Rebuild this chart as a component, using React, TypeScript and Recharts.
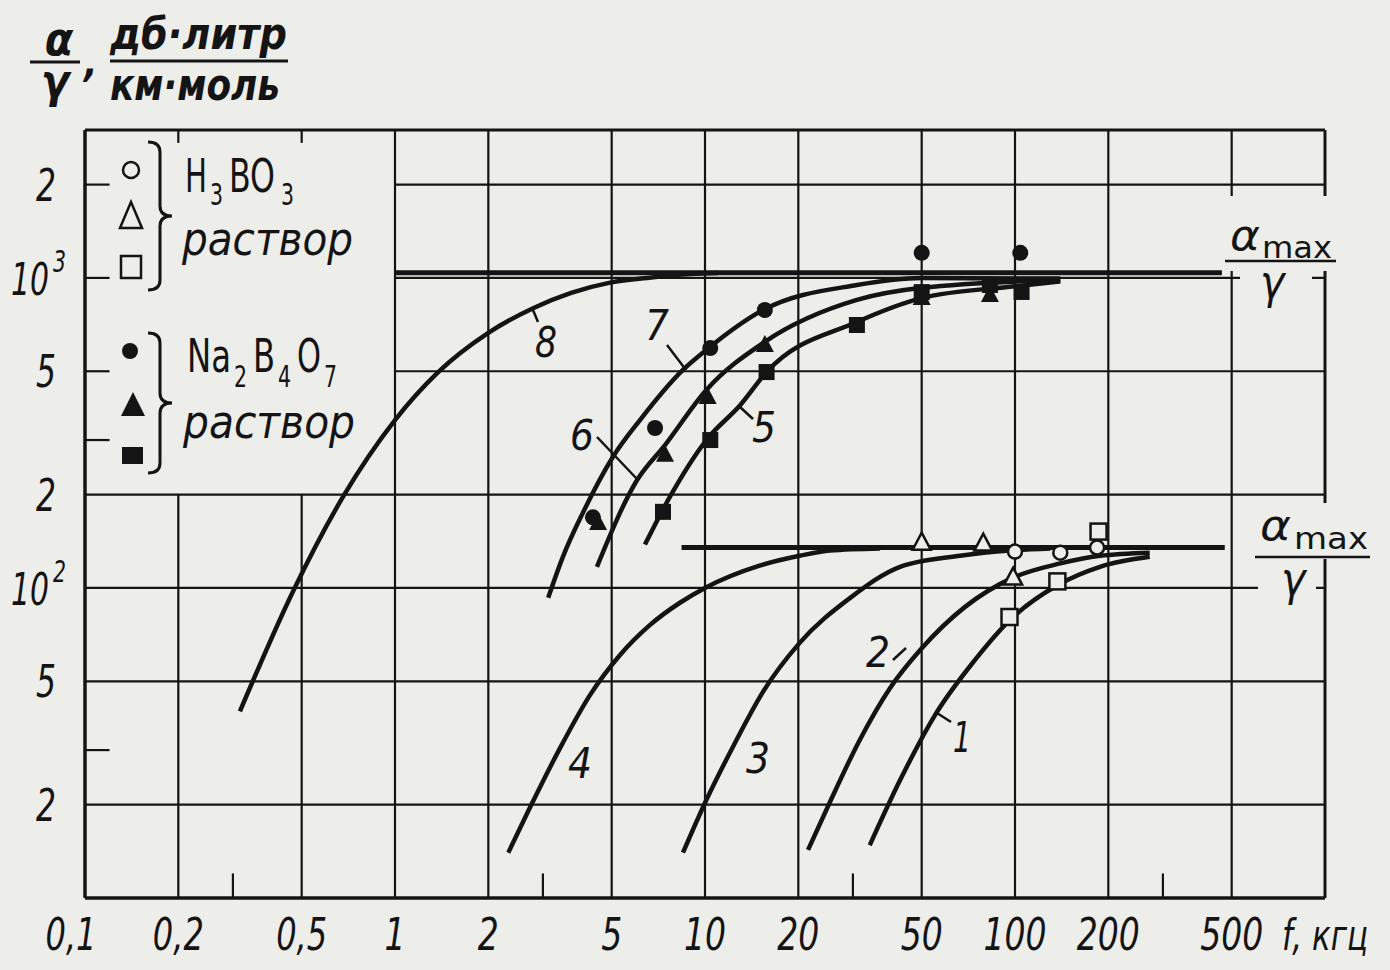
import React from 'react';
import { ComposedChart, Line, Scatter, XAxis, YAxis, ReferenceLine } from 'recharts';

const BG = '#ededea';
const INK = '#141414';
const FONT = "'Liberation Sans Narrow', 'DejaVu Sans Condensed', 'DejaVu Sans', sans-serif";

// axis ticks
const X_TICKS = [0.1, 0.2, 0.5, 1, 2, 5, 10, 20, 50, 100, 200, 500];
const X_TICK_LABELS = ['0,1', '0,2', '0,5', '1', '2', '5', '10', '20', '50', '100', '200', '500'];
const Y_TICKS = [20, 50, 100, 200, 500, 1000, 2000];
const Y_TICK_LABELS = ['2', '5', '10^2', '2', '5', '10^3', '2'];

// grid
const GRID_X_FULL = [1, 2, 5, 10, 20, 50, 100, 200, 500];
const GRID_X_LOW = [0.2, 0.5];
const GRID_Y_FULL = [20, 50, 100, 200];
const GRID_Y_RIGHT = [500, 1000, 2000];
const BOTTOM_TICKS = [0.3, 3, 30, 300];
const LEFT_TICKS = [30, 300, 500, 1000, 2000];
const TOP_TICKS = [0.2, 0.5];

// curves (f, кгц ; α/γ)
const CURVE_1 = [[34, 14.8], [42.6, 24], [55.2, 38.9], [74.3, 58.6], [96.4, 78.9], [137, 102], [188, 117], [272, 126]];
const CURVE_2 = [[21.5, 14.3], [25.3, 20.4], [31.6, 32.4], [39.5, 47.5], [50.1, 64], [69, 86.9], [98.6, 108], [140, 120], [188, 127], [272, 130]];
const CURVE_3 = [[8.49, 14], [10.1, 20.7], [12.3, 30.7], [15.4, 46.3], [20.2, 66.5], [29.4, 92.9], [42.6, 117], [66.5, 127], [96.4, 132], [130, 134]];
const CURVE_4 = [[2.32, 14], [2.72, 19.5], [3.41, 30.5], [4.26, 45.2], [5.32, 60.8], [6.65, 76], [8.3, 89.6], [10, 100], [15, 118], [20.2, 127], [25.3, 132], [36.7, 134]];
const CURVE_5 = [[6.4, 138], [7.71, 197], [10.1, 300], [13, 389], [15.8, 497], [30.9, 721], [50, 861], [100, 940], [140, 975]];
const CURVE_6 = [[4.48, 117], [6.04, 223], [7.43, 289], [10.1, 435], [15.6, 622], [30.9, 849], [50, 929], [140, 985]];
const CURVE_7 = [[3.12, 93], [3.48, 126], [4.04, 175], [5.05, 265], [6.17, 348], [8.49, 505], [10.1, 586], [15.4, 788], [30.9, 949], [50, 1000], [140, 995]];
const CURVE_8 = [[0.316, 40], [0.47, 98], [0.68, 197], [1, 348], [1.37, 494], [2, 665], [2.8, 800], [3.7, 895], [4.9, 964], [6.5, 1000], [9, 1030], [11, 1038]];
const AMAX_UPPER = [[1, 1040], [465, 1040]];
const AMAX_LOWER = [[8.4, 135], [475, 135]];

// measured points
const H3BO3_CIRCLE = [[100, 131], [140, 130], [184, 135]];
const H3BO3_TRIANGLE = [[50, 140], [79, 139], [98.6, 108]];
const H3BO3_SQUARE = [[186, 152], [137, 105], [96, 80.6]];
const NA_CIRCLE = [[4.35, 169], [6.9, 328], [10.4, 594], [15.6, 788], [50, 1205], [104, 1205]];
const NA_TRIANGLE = [[4.52, 162], [7.43, 269], [10.2, 413], [15.6, 608], [50, 861], [83, 881]];
const NA_SQUARE = [[7.32, 176], [10.4, 300], [15.8, 497], [30.9, 705], [50, 900], [83, 949], [105, 901]];

const pts = (a: number[][]) => a.map(([x, y]) => ({ x, y }));
const TF = 1.2; // short tick length factor (log)

const OpenCircle = (p: any) => <circle cx={p.cx} cy={p.cy} r={7} fill={BG} stroke={INK} strokeWidth={2.5} />;
const OpenTriangle = (p: any) => (
  <path d={`M${p.cx},${p.cy - 10} L${p.cx + 9},${p.cy + 7} L${p.cx - 9},${p.cy + 7} Z`} fill={BG} stroke={INK} strokeWidth={2.5} />
);
const OpenSquare = (p: any) => <rect x={p.cx - 8} y={p.cy - 8} width={16} height={16} fill={BG} stroke={INK} strokeWidth={2.5} />;
const FillCircle = (p: any) => <circle cx={p.cx} cy={p.cy} r={8} fill={INK} />;
const FillTriangle = (p: any) => (
  <path d={`M${p.cx},${p.cy - 10} L${p.cx + 9},${p.cy + 7} L${p.cx - 9},${p.cy + 7} Z`} fill={INK} />
);
const FillSquare = (p: any) => <rect x={p.cx - 8} y={p.cy - 8} width={16} height={16} fill={INK} />;

const charW = (s: string) => s.split('').reduce((w, c) => w + (c === ',' ? 9 : 21), 0);

const XTick = (props: any) => {
  const { x, y, payload } = props;
  const i = X_TICKS.indexOf(payload.value);
  const label = X_TICK_LABELS[i] ?? '';
  const dx = i === 0 ? -14 : 0;
  return (
    <text x={x + dx} y={y + 52} textAnchor="middle" fontFamily={FONT} fontStyle="italic" fontSize={44}
      fill={INK} textLength={charW(label)} lengthAdjust="spacingAndGlyphs">{label}</text>
  );
};

const YTick = (props: any) => {
  const { y, payload } = props;
  const i = Y_TICKS.indexOf(payload.value);
  const label = Y_TICK_LABELS[i] ?? '';
  if (label.includes('^')) {
    const [b, e] = label.split('^');
    return (
      <text x={11} y={y + 17} fontFamily={FONT} fontStyle="italic" fontSize={44} fill={INK}>
        <tspan textLength={38} lengthAdjust="spacingAndGlyphs">{b}</tspan>
        <tspan x={53} dy={-23} fontSize={30} textLength={13} lengthAdjust="spacingAndGlyphs">{e}</tspan>
      </text>
    );
  }
  return (
    <text x={46} y={y + 16} textAnchor="middle" fontFamily={FONT} fontStyle="italic" fontSize={44} fill={INK}
      textLength={20} lengthAdjust="spacingAndGlyphs">{label}</text>
  );
};

const seg = (x1: number, y1: number, x2: number, y2: number, w: number, key: string) => (
  <ReferenceLine key={key} segment={[{ x: x1, y: y1 }, { x: x2, y: y2 }]} stroke={INK} strokeWidth={w} ifOverflow="visible" />
);

const brace = (x0: number, yTop: number, yBot: number) => {
  const w = 24;
  const m = x0 + w / 2;
  const yMid = (yTop + yBot) / 2;
  const r = 10;
  return `M${x0},${yTop} Q${m},${yTop} ${m},${yTop + r} L${m},${yMid - r} Q${m},${yMid} ${x0 + w},${yMid} Q${m},${yMid} ${m},${yMid + r} L${m},${yBot - r} Q${m},${yBot} ${x0},${yBot}`;
};

const Overlay = () => (
  <svg width={1390} height={970} style={{ position: 'absolute', left: 0, top: 0, pointerEvents: 'none' }}>
    {/* paper patches behind alpha_max labels */}
    <rect x={1226} y={196} width={120} height={75} fill={BG} />
    <rect x={1240} y={275} width={72} height={42} fill={BG} />
    <rect x={1240} y={503} width={140} height={56} fill={BG} />
    <rect x={1258} y={560} width={58} height={50} fill={BG} />

    <g fill={INK} fontFamily={FONT} fontStyle="italic">
      {/* axis title */}
      <text x={59} y={55} fontSize={46} fontWeight="bold" textAnchor="middle">α</text>
      <line x1={30} x2={80} y1={62} y2={62} stroke={INK} strokeWidth={3} />
      <text x={55} y={97} fontSize={46} fontWeight="bold" textAnchor="middle">γ</text>
      <text x={84} y={76} fontSize={40} fontWeight="bold">,</text>
      <text x={110} y={49} fontSize={44} fontWeight="bold" textLength={177} lengthAdjust="spacingAndGlyphs">дб·литр</text>
      <line x1={110} x2={288} y1={61} y2={61} stroke={INK} strokeWidth={3} />
      <text x={110} y={100} fontSize={44} fontWeight="bold" textLength={170} lengthAdjust="spacingAndGlyphs">км·моль</text>

      {/* legend */}
      <text x={185} y={192} fontSize={46} fontStyle="normal">
        <tspan x={185} textLength={22} lengthAdjust="spacingAndGlyphs">H</tspan>
        <tspan x={210} y={205} fontSize={30} textLength={13} lengthAdjust="spacingAndGlyphs">3</tspan>
        <tspan x={229} y={192} textLength={46} lengthAdjust="spacingAndGlyphs">BO</tspan>
        <tspan x={281} y={205} fontSize={30} textLength={13} lengthAdjust="spacingAndGlyphs">3</tspan>
      </text>
      <text x={182} y={255} fontSize={46} textLength={171} lengthAdjust="spacingAndGlyphs">раствор</text>
      <text x={187} y={372} fontSize={46} fontStyle="normal">
        <tspan x={187} textLength={44} lengthAdjust="spacingAndGlyphs">Na</tspan>
        <tspan x={234} y={387} fontSize={30} textLength={13} lengthAdjust="spacingAndGlyphs">2</tspan>
        <tspan x={253} y={372} textLength={22} lengthAdjust="spacingAndGlyphs">B</tspan>
        <tspan x={278} y={387} fontSize={30} textLength={13} lengthAdjust="spacingAndGlyphs">4</tspan>
        <tspan x={297} y={372} textLength={24} lengthAdjust="spacingAndGlyphs">O</tspan>
        <tspan x={324} y={387} fontSize={30} textLength={13} lengthAdjust="spacingAndGlyphs">7</tspan>
      </text>
      <text x={183} y={438} fontSize={46} textLength={172} lengthAdjust="spacingAndGlyphs">раствор</text>

      {/* curve numbers */}
      <text x={535} y={357} fontSize={42} textLength={22} lengthAdjust="spacingAndGlyphs">8</text>
      <text x={645} y={340} fontSize={42} textLength={24} lengthAdjust="spacingAndGlyphs">7</text>
      <text x={570} y={450} fontSize={42} textLength={24} lengthAdjust="spacingAndGlyphs">6</text>
      <text x={752} y={442} fontSize={42} textLength={24} lengthAdjust="spacingAndGlyphs">5</text>
      <text x={568} y={778} fontSize={42} textLength={24} lengthAdjust="spacingAndGlyphs">4</text>
      <text x={746} y={773} fontSize={42} textLength={24} lengthAdjust="spacingAndGlyphs">3</text>
      <text x={866} y={667} fontSize={42} textLength={24} lengthAdjust="spacingAndGlyphs">2</text>
      <text x={953} y={752} fontSize={42} textLength={18} lengthAdjust="spacingAndGlyphs">1</text>

      {/* x axis unit */}
      <text x={1282} y={950} fontSize={42} textLength={86} lengthAdjust="spacingAndGlyphs">f, кгц</text>

      {/* alpha max labels */}
      <text x={1230} y={250} fontSize={42} textLength={30} lengthAdjust="spacingAndGlyphs">α</text>
      <text x={1262} y={258} fontSize={30} fontStyle="normal" textLength={70} lengthAdjust="spacingAndGlyphs">max</text>
      <line x1={1225} x2={1336} y1={261} y2={261} stroke={INK} strokeWidth={2.5} />
      <text x={1260} y={298} fontSize={46}>γ</text>
      <text x={1260} y={540} fontSize={42} textLength={31} lengthAdjust="spacingAndGlyphs">α</text>
      <text x={1294} y={549} fontSize={30} fontStyle="normal" textLength={74} lengthAdjust="spacingAndGlyphs">max</text>
      <line x1={1255} x2={1370} y1={557} y2={557} stroke={INK} strokeWidth={2.5} />
      <text x={1281} y={595} fontSize={46}>γ</text>
    </g>

    {/* leader ticks to curve numbers */}
    <g stroke={INK} strokeWidth={2.5} fill="none">
      <line x1={533} y1={310} x2={538} y2={322} />
      <line x1={667} y1={345} x2={686} y2={370} />
      <line x1={597} y1={437} x2={637} y2={479} />
      <line x1={740} y1={407} x2={753} y2={419} />
      <line x1={893} y1={660} x2={906} y2={648} />
      <line x1={937} y1={713} x2={951} y2={722} />
    </g>

    {/* legend symbols */}
    <g stroke={INK} strokeWidth={2.5}>
      <circle cx={131} cy={170} r={8} fill={BG} />
      <path d="M131,202 L142,228 L120,228 Z" fill={BG} />
      <rect x={121} y={256} width={20} height={22} fill={BG} />
      <circle cx={130} cy={351} r={8} fill={INK} stroke="none" />
      <path d="M133,392 L145,416 L121,416 Z" fill={INK} stroke="none" />
      <rect x={122} y={447} width={21} height={17} fill={INK} stroke="none" />
      <path d={brace(148, 142, 290)} fill="none" strokeWidth={3} />
      <path d={brace(148, 333, 473)} fill="none" strokeWidth={3} />
    </g>
  </svg>
);

export default function App() {
  const grid: React.ReactNode[] = [];
  GRID_X_FULL.forEach((x) => grid.push(seg(x, 10, x, 3000, 2.2, `vx${x}`)));
  GRID_X_LOW.forEach((x) => grid.push(seg(x, 10, x, 200, 2.2, `vl${x}`)));
  GRID_Y_FULL.forEach((y) => grid.push(seg(0.1, y, 1000, y, 2.2, `hy${y}`)));
  GRID_Y_RIGHT.forEach((y) => grid.push(seg(1, y, 1000, y, 2.2, `hr${y}`)));
  BOTTOM_TICKS.forEach((x) => grid.push(seg(x, 10, x, 10 * TF, 2.2, `bt${x}`)));
  LEFT_TICKS.forEach((y) => grid.push(seg(0.1, y, 0.1 * TF, y, 2.2, `lt${y}`)));
  TOP_TICKS.forEach((x) => grid.push(seg(x, 3000, x, 3000 / 1.1, 2.2, `tt${x}`)));
  // frame
  grid.push(seg(0.1, 10, 1000, 10, 3.5, 'fb'));
  grid.push(seg(0.1, 3000, 1000, 3000, 3, 'ft'));
  grid.push(seg(0.1, 10, 0.1, 3000, 3.5, 'fl'));
  grid.push(seg(1000, 10, 1000, 3000, 3, 'fr'));

  const curves = [CURVE_1, CURVE_2, CURVE_3, CURVE_4, CURVE_5, CURVE_6, CURVE_7, CURVE_8];

  return (
    <div style={{ position: 'absolute', left: 0, top: 0, width: 1390, height: 970, background: BG, overflow: 'hidden' }}>
      <ComposedChart width={1390} height={970} margin={{ top: 130, right: 65, bottom: 32, left: 25 }}>
        <XAxis dataKey="x" type="number" scale="log" domain={[0.1, 1000]} allowDataOverflow ticks={X_TICKS}
          interval={0} height={40} tickLine={false} axisLine={false} tickSize={0} tickMargin={0} tick={XTick} />
        <YAxis dataKey="y" type="number" scale="log" domain={[10, 3000]} allowDataOverflow ticks={Y_TICKS}
          interval={0} width={60} tickLine={false} axisLine={false} tickSize={0} tickMargin={0} tick={YTick} />
        {grid}
        <Line data={pts(AMAX_UPPER)} dataKey="y" type="linear" stroke={INK} strokeWidth={5} dot={false} isAnimationActive={false} />
        <Line data={pts(AMAX_LOWER)} dataKey="y" type="linear" stroke={INK} strokeWidth={5} dot={false} isAnimationActive={false} />
        {curves.map((c, i) => (
          <Line key={`c${i}`} data={pts(c)} dataKey="y" type="monotone" stroke={INK} strokeWidth={4.5} dot={false} isAnimationActive={false} />
        ))}
        <Scatter data={pts(H3BO3_CIRCLE)} dataKey="y" shape={OpenCircle} isAnimationActive={false} />
        <Scatter data={pts(H3BO3_TRIANGLE)} dataKey="y" shape={OpenTriangle} isAnimationActive={false} />
        <Scatter data={pts(H3BO3_SQUARE)} dataKey="y" shape={OpenSquare} isAnimationActive={false} />
        <Scatter data={pts(NA_CIRCLE)} dataKey="y" shape={FillCircle} isAnimationActive={false} />
        <Scatter data={pts(NA_TRIANGLE)} dataKey="y" shape={FillTriangle} isAnimationActive={false} />
        <Scatter data={pts(NA_SQUARE)} dataKey="y" shape={FillSquare} isAnimationActive={false} />
      </ComposedChart>
      <Overlay />
    </div>
  );
}
